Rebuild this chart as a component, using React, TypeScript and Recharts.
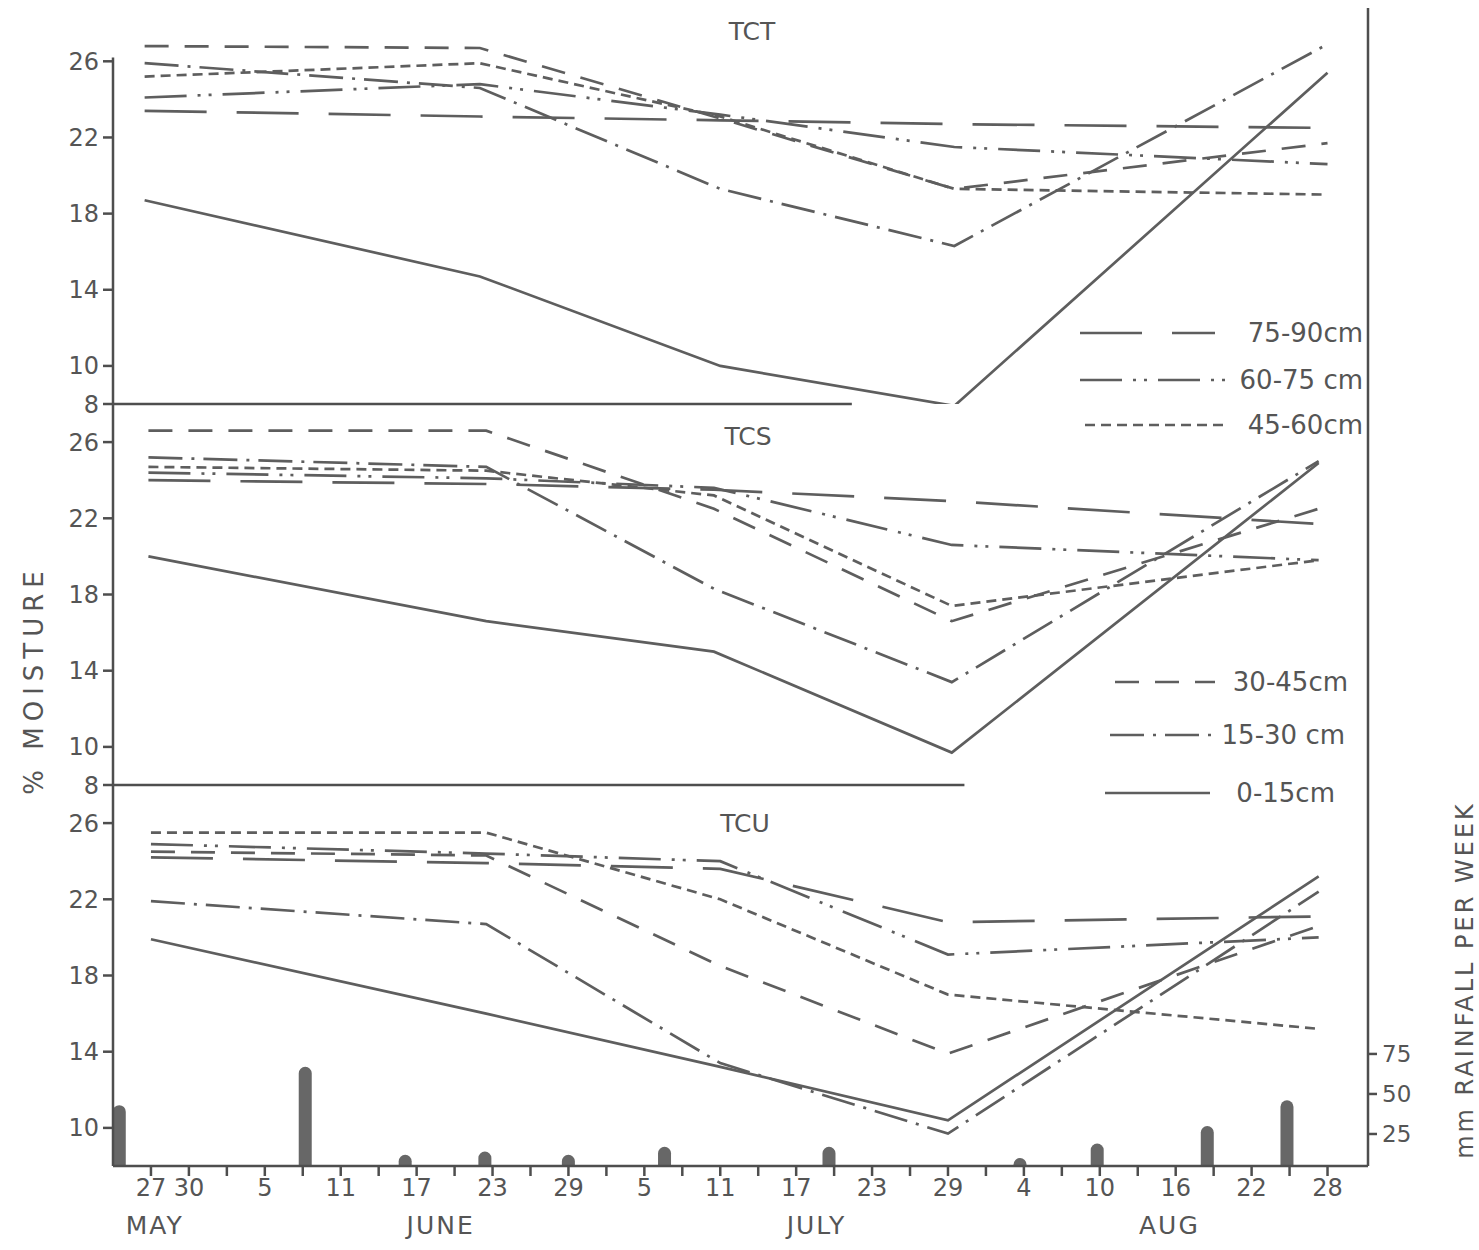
import { Bar, ComposedChart, Line, ReferenceLine, XAxis, YAxis } from "recharts";

// x values are days counted from 24 May
const tctDays = [2.5, 29, 48, 66.5, 96];
const tct0to15 = [18.7, 14.7, 10.0, 7.9, 25.4];
const tct15to30 = [25.9, 24.6, 19.3, 16.3, 26.9];
const tct30to45 = [26.8, 26.7, 23.0, 19.3, 21.7];
const tct45to60 = [25.2, 25.9, 23.1, 19.3, 19.0];
const tct60to75 = [24.1, 24.8, 23.2, 21.5, 20.6];
const tct75to90 = [23.4, 23.1, 22.9, 22.7, 22.5];

const tcsDays = [2.8, 29.5, 47.5, 66.3, 95.3];
const tcs0to15 = [20.0, 16.6, 15.0, 9.7, 24.9];
const tcs15to30 = [25.2, 24.7, 18.3, 13.4, 25.0];
const tcs30to45 = [26.6, 26.6, 22.5, 16.6, 22.5];
const tcs45to60 = [24.7, 24.5, 23.2, 17.4, 19.8];
const tcs60to75 = [24.4, 24.1, 23.6, 20.6, 19.8];
const tcs75to90 = [24.0, 23.8, 23.5, 22.9, 21.7];

const tcuDays = [3, 29.5, 48, 66, 95.3];
const tcu0to15 = [19.9, 16.0, 13.2, 10.4, 23.2];
const tcu15to30 = [21.9, 20.7, 13.4, 9.7, 22.4];
const tcu30to45 = [24.5, 24.3, 18.5, 13.9, 20.6];
const tcu45to60 = [25.5, 25.5, 22.0, 17.0, 15.2];
const tcu60to75 = [24.9, 24.4, 24.0, 19.1, 20.0];
const tcu75to90 = [24.2, 23.9, 23.6, 20.8, 21.1];

const rainDays = [0.5, 15.2, 23.1, 29.4, 36, 43.6, 56.6, 71.7, 77.8, 86.5, 92.8];
const rainMm = [43, 67, 12, 14, 12, 17, 17, 10, 19, 30, 46];

const dayTickValues = [3, 6, 12, 18, 24, 30, 36, 42, 48, 54, 60, 66, 72, 78, 84, 90, 96];
const dayTickLabels = ["27", "30", "5", "11", "17", "23", "29", "5", "11", "17", "23", "29", "4", "10", "16", "22", "28"];
const monthTickValues = [3.3, 25.9, 55.6, 83.5];
const monthLabels = ["MAY", "JUNE", "JULY", "AUG"];
const moistureTicks = [8, 10, 14, 18, 22, 26];
const rainTicks = [25, 50, 75];
const depthLabels = ["0-15cm", "15-30 cm", "30-45cm", "45-60cm", "60-75 cm", "75-90cm"];

const depthDash = [undefined, "34 9 3 9", "24 16", "10 6", "42 11 3 8 3 11", "62 30"];

const INK = "#5e5e5e";
const AXIS = "#4e4e4e";
const FONT = "'DejaVu Sans', sans-serif";
const DAY_MAX = 99.2;
const RAIN_MAX = 243;

const minorTicks = Array.from({ length: 32 }, (_, i) => 3 + 3 * i);
const rainRows = rainDays.map((day, i) => ({ day, rain: rainMm[i] }));
const tickText = { fill: "#555", fontSize: 24, fontFamily: FONT };
const axisStroke = { stroke: AXIS, strokeWidth: 2.5 };

function dayLabel(v: number) {
  const k = dayTickValues.indexOf(v);
  return k >= 0 ? dayTickLabels[k] : "";
}

function monthLabel(v: number) {
  const k = monthTickValues.indexOf(v);
  return k >= 0 ? monthLabels[k] : "";
}

// rounded rain column, centred on its day whatever band width recharts picks
function RainColumn(props: any) {
  const { x, y, width, height } = props;
  if (height == null || height <= 0) return null;
  const cx = x + width / 2;
  const r = 6.5;
  const bottom = y + height;
  const capY = Math.min(y + r, bottom);
  return (
    <path
      d={`M${cx - r},${bottom} L${cx - r},${capY} A${r},${r} 0 0 1 ${cx + r},${capY} L${cx + r},${bottom} Z`}
      fill="#676767"
    />
  );
}

type PanelProps = {
  days: number[];
  depths: number[][];
  top: number;
  marginTop: number;
  plotHeight: number;
  yMax: number;
  ticks: number[];
  floorTo?: number;
  isTop?: boolean;
  isBottom?: boolean;
};

function MoisturePanel({ days, depths, top, marginTop, plotHeight, yMax, ticks, floorTo, isTop, isBottom }: PanelProps) {
  const height = marginTop + plotHeight + (isBottom ? 82 : 15);
  return (
    <div style={{ position: "absolute", left: 0, top }}>
      <ComposedChart
        width={1479}
        height={height}
        data={isBottom ? rainRows : []}
        margin={{ top: marginTop, right: 0, bottom: isBottom ? 0 : 15, left: 0 }}
      >
        {isBottom ? (
          <XAxis
            dataKey="day"
            type="number"
            domain={[0, DAY_MAX]}
            ticks={minorTicks}
            interval={0}
            tickFormatter={dayLabel}
            tickSize={10}
            tickMargin={3}
            axisLine={axisStroke}
            tickLine={axisStroke}
            tick={tickText}
            height={42}
            allowDataOverflow
          />
        ) : (
          <XAxis dataKey="day" type="number" domain={[0, DAY_MAX]} hide allowDataOverflow />
        )}
        {isBottom && (
          <XAxis
            xAxisId="mo"
            dataKey="day"
            type="number"
            domain={[0, DAY_MAX]}
            ticks={monthTickValues}
            interval={0}
            tickFormatter={monthLabel}
            axisLine={false}
            tickLine={false}
            tick={{ ...tickText, fontSize: 25, letterSpacing: 2 }}
            height={40}
            allowDataOverflow
          />
        )}
        <YAxis
          yAxisId="m"
          type="number"
          domain={[8, yMax]}
          ticks={ticks}
          interval={0}
          width={113}
          tickSize={10}
          tickMargin={4}
          axisLine={isTop ? false : axisStroke}
          tickLine={axisStroke}
          tick={tickText}
          allowDataOverflow
        />
        {isBottom ? (
          <YAxis
            yAxisId="rain"
            orientation="right"
            type="number"
            domain={[5, RAIN_MAX]}
            ticks={rainTicks}
            interval={0}
            width={111}
            tickSize={9}
            tickMargin={5}
            axisLine={axisStroke}
            tickLine={axisStroke}
            tick={{ ...tickText, fontSize: 23 }}
            allowDataOverflow
          />
        ) : (
          <YAxis
            yAxisId="r"
            orientation="right"
            type="number"
            domain={[0, 1]}
            ticks={[]}
            width={111}
            tick={false}
            tickLine={false}
            axisLine={axisStroke}
          />
        )}
        {isTop && (
          <ReferenceLine
            yAxisId="m"
            segment={[{ x: 0, y: 8 }, { x: 0, y: 26.2 }]}
            stroke={AXIS}
            strokeWidth={2.5}
            ifOverflow="visible"
          />
        )}
        {floorTo !== undefined && (
          <ReferenceLine
            yAxisId="m"
            segment={[{ x: 0, y: 8 }, { x: floorTo, y: 8 }]}
            stroke={AXIS}
            strokeWidth={2.5}
            ifOverflow="visible"
          />
        )}
        {isBottom && (
          <Bar
            yAxisId="rain"
            dataKey="rain"
            barSize={13}
            shape={RainColumn}
            isAnimationActive={false}
          />
        )}
        {depths.map((vals, i) => (
          <Line
            key={depthLabels[i]}
            yAxisId="m"
            data={days.map((day, j) => ({ day, v: vals[j] }))}
            dataKey="v"
            name={depthLabels[i]}
            type="linear"
            stroke={INK}
            strokeWidth={2.7}
            strokeDasharray={depthDash[i]}
            dot={false}
            activeDot={false}
            isAnimationActive={false}
          />
        ))}
      </ComposedChart>
    </div>
  );
}

const legendRows = [
  { i: 5, y: 333, x1: 1080, x2: 1215, tx: 1363 },
  { i: 4, y: 380, x1: 1080, x2: 1225, tx: 1363 },
  { i: 3, y: 425, x1: 1085, x2: 1225, tx: 1363 },
  { i: 2, y: 682, x1: 1115, x2: 1215, tx: 1348 },
  { i: 1, y: 735, x1: 1110, x2: 1213, tx: 1345 },
  { i: 0, y: 793, x1: 1105, x2: 1210, tx: 1335 },
];

function Annotations() {
  return (
    <svg
      width={1479}
      height={1250}
      style={{ position: "absolute", left: 0, top: 0, pointerEvents: "none" }}
    >
      <g fontFamily={FONT} fill="#555">
        <text x={752} y={40} fontSize={25} textAnchor="middle">TCT</text>
        <text x={748} y={445} fontSize={25} textAnchor="middle">TCS</text>
        <text x={745} y={832} fontSize={25} textAnchor="middle">TCU</text>
        <text transform="translate(43 680) rotate(-90)" fontSize={26} letterSpacing={6} textAnchor="middle">
          % MOISTURE
        </text>
        <text transform="translate(1473 980) rotate(-90)" fontSize={24} letterSpacing={3} textAnchor="middle">
          mm RAINFALL PER WEEK
        </text>
      </g>
      {legendRows.map((r) => (
        <g key={r.i}>
          <line
            x1={r.x1}
            x2={r.x2}
            y1={r.y}
            y2={r.y}
            stroke={INK}
            strokeWidth={2.7}
            strokeDasharray={depthDash[r.i]}
          />
          <text x={r.tx} y={r.y + 9} fontFamily={FONT} fontSize={26} fill="#555" textAnchor="end">
            {depthLabels[r.i]}
          </text>
        </g>
      ))}
    </svg>
  );
}

export default function App() {
  return (
    <div style={{ position: "absolute", left: 0, top: 0, width: 1479, height: 1250, background: "#fff" }}>
      <MoisturePanel
        days={tctDays}
        depths={[tct0to15, tct15to30, tct30to45, tct45to60, tct60to75, tct75to90]}
        top={0}
        marginTop={8}
        plotHeight={396}
        yMax={28.8}
        ticks={moistureTicks}
        floorTo={58.4}
        isTop
      />
      <MoisturePanel
        days={tcsDays}
        depths={[tcs0to15, tcs15to30, tcs30to45, tcs45to60, tcs60to75, tcs75to90]}
        top={389}
        marginTop={15}
        plotHeight={381}
        yMax={28}
        ticks={moistureTicks}
        floorTo={67.3}
      />
      <MoisturePanel
        days={tcuDays}
        depths={[tcu0to15, tcu15to30, tcu30to45, tcu45to60, tcu60to75, tcu75to90]}
        top={770}
        marginTop={15}
        plotHeight={381}
        yMax={28}
        ticks={moistureTicks.slice(1)}
        isBottom
      />
      <Annotations />
    </div>
  );
}
